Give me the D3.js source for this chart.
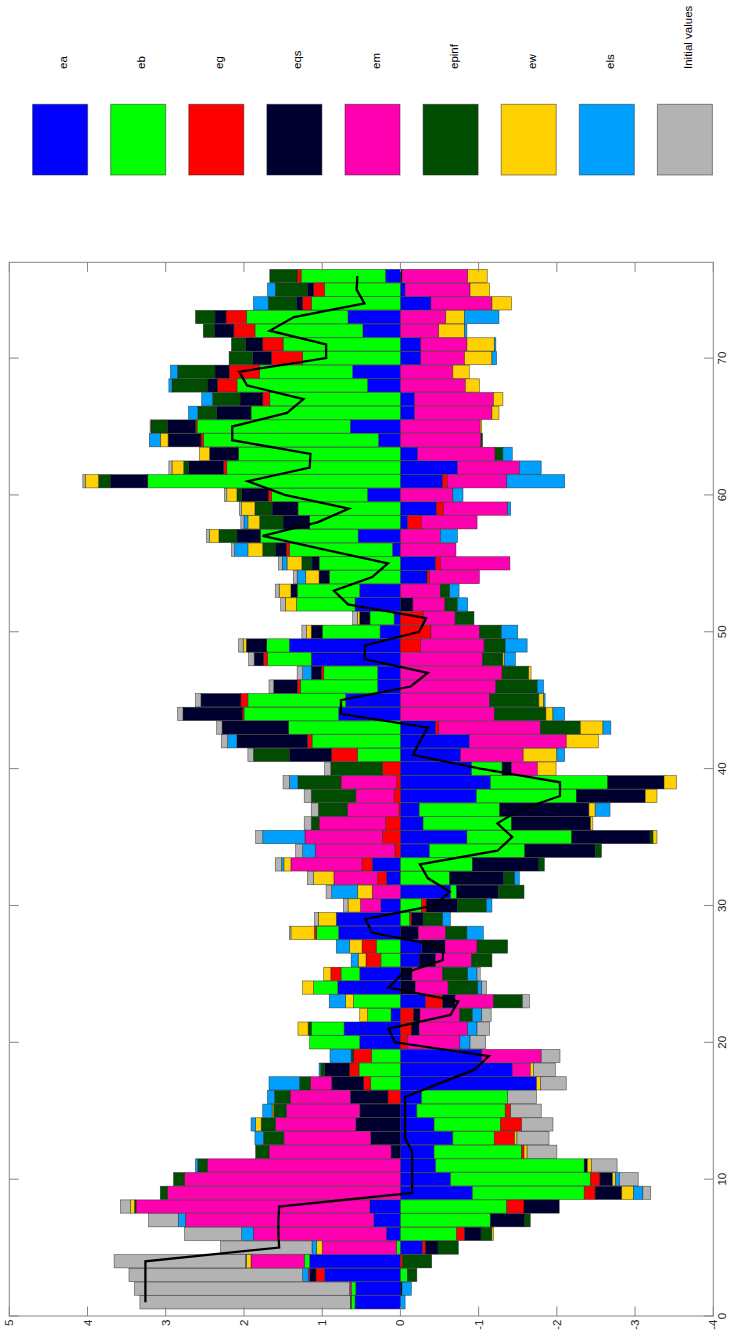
<!DOCTYPE html>
<html>
<head>
<meta charset="utf-8">
<script src="https://cdn.jsdelivr.net/npm/d3@7"></script>
<style>
  body { margin: 0; background: #fff; }
  svg { display: block; }
  text { font-family: "Liberation Sans", Arial, sans-serif; }
</style>
</head>
<body>
<svg id="chart" width="731" height="1337"></svg>
<script>
// Historical shock decomposition, periods 1..76
const periods = d3.range(1, 77);

const ea = [0.58,0.57,0.97,1.16,-0.28,0.18,0.34,0.39,-0.92,-0.64,-0.45,-0.43,-0.67,-0.43,-0.21,-0.27,-1.74,-1.43,-1.04,0.52,
  0.72,0.12,-0.32,0.80,0.52,-0.24,-0.27,0.79,0.82,0.25,-0.64,0.18,0.36,-0.37,-0.85,-0.29,-0.24,-0.97,-1.15,-0.91,
  -0.77,-0.88,-0.45,0.79,0.70,0.29,0.29,1.14,1.42,0.26,0.08,0.58,0.52,-0.34,-0.45,0.10,0.54,-0.09,-0.46,0.42,
  -0.54,-0.73,-0.22,0.28,0.64,-0.18,-0.18,0.42,0.61,-0.26,-0.26,0.48,0.67,-0.39,-0.06,0.19];
const eb = [0.05,0.06,-0.09,0.07,0.05,-0.72,-1.15,-1.36,-1.43,-1.79,-1.90,-1.12,-0.53,-0.85,-1.13,-1.10,0.38,0.53,0.37,0.64,
  0.42,0.30,0.60,0.31,0.24,0.25,0.31,0.28,-0.12,-0.27,-0.08,-0.63,-0.92,-1.22,-1.34,-1.13,-1.03,-1.28,-1.50,-0.39,
  0.55,1.13,1.43,1.21,1.25,0.99,0.69,0.56,0.29,0.74,0.31,0.75,0.80,0.91,1.04,1.32,1.25,1.16,1.31,1.23,
  3.23,2.22,2.07,2.24,1.96,1.91,1.67,1.67,1.19,1.25,1.50,1.38,1.30,1.14,0.97,1.08];
const eg = [0,0,0.11,-0.03,-0.04,-0.10,0,-0.22,-0.14,-0.12,0,-0.03,-0.26,-0.27,-0.07,0.16,0.09,0.12,0.23,-0.09,
  -0.14,-0.17,-0.22,0,0.13,0.19,0.18,0.03,-0.02,-0.06,0,0.11,0.13,0.07,0.23,0.19,0.02,0.08,0.05,0.23,
  0.33,0.06,-0.04,0.02,0.09,0.04,0.03,0.05,-0.26,-0.39,-0.29,0,0,-0.03,-0.06,0.04,0,-0.18,-0.09,0.04,
  -0.06,0.04,0,0.03,0.02,0,0.09,0.25,0.39,0.40,0.26,0.27,0.26,0.11,0.14,0.05];
const eqs = [0.01,-0.02,0.08,0,-0.16,-0.21,-0.44,-0.45,-0.34,-0.16,-0.04,0.12,0.38,0.57,0.52,0.48,0.41,0.32,0.01,0,
  -0.10,-0.08,-0.16,-0.19,-0.15,-0.21,-0.30,-0.23,-0.15,-0.40,-0.53,-0.69,-0.85,-0.90,-1.00,-1.01,-1.14,-0.88,-0.72,-0.12,
  0.54,0.90,0.85,0.76,0.51,0.30,0.13,0.12,0.26,0.14,0.13,-0.16,0.08,0.13,0.09,0.14,0.30,0.34,0.33,0.34,
  0.48,0.45,0.37,0.42,0.36,0.44,0.29,0.13,0.18,0.24,0.22,0.25,0.14,0.08,0.08,-0.02];
const em = [0,0.02,0.02,0.68,0.95,1.70,2.41,2.99,2.98,2.76,2.47,1.56,1.11,1.03,0.94,0.77,0.27,-0.23,-0.76,-0.67,
  -0.62,-0.51,-0.49,-0.42,-0.39,-0.46,-0.41,-0.35,0,0.26,0.36,0.56,0.91,1.02,0.99,0.85,0.66,0.49,0.71,-0.33,
  -0.80,-1.24,-1.30,-1.20,-1.14,-1.22,-1.30,-1.05,-0.81,-0.62,-0.41,-0.41,-0.51,-0.64,-0.89,-0.71,-0.51,-0.71,-0.82,-0.67,
  -0.76,-0.79,-0.99,-1.03,-1.02,-0.99,-1.01,-0.83,-0.67,-0.56,-0.59,-0.49,-0.58,-0.78,-0.83,-0.84];
const epinf = [0,0,-0.12,-0.37,-0.26,-0.14,-0.07,0.02,0.09,0.14,0.12,0.17,0.26,0.18,0.16,0.20,0.14,0.05,0.02,0,
  0.04,-0.16,-0.37,-0.38,-0.32,-0.26,-0.39,-0.27,-0.25,-0.37,-0.33,-0.14,-0.07,-0.08,-0.04,0.10,0.37,0.57,0.55,0.66,
  0.46,0,-0.51,-0.66,-0.63,-0.53,-0.34,-0.26,-0.27,-0.28,-0.24,-0.16,-0.12,0,0.13,0.16,0.23,0.30,0.22,0.06,
  0.15,0.06,-0.10,-0.02,0.21,0.24,0.35,0.45,0.48,0.30,0.18,0.14,0.25,0.36,0.41,0.35];
const ew = [0,0,0,0.06,0.07,-0.02,0,0.05,-0.15,-0.04,-0.05,-0.04,-0.03,0.07,0.02,0,-0.05,-0.04,0,0,
  0.13,0.10,0.10,0.14,0.09,0.10,0.16,0.30,0.23,0.16,0.19,0.26,0.09,0,-0.05,-0.03,-0.08,-0.15,-0.16,-0.24,
  -0.43,-0.41,-0.29,-0.09,-0.06,0,-0.03,-0.02,0.04,0.06,0.03,0.14,0.15,0.17,0.19,0.19,0.12,0.15,0.17,0.13,
  0.17,0.15,0.13,0.10,-0.02,-0.09,-0.12,-0.18,-0.21,-0.35,-0.35,-0.33,-0.24,-0.25,-0.25,-0.25];
const els = [-0.06,-0.12,0.07,0.01,0.06,0.15,0.09,0,-0.12,-0.05,0.03,0,0.11,0.06,0.12,0.09,0.39,0.02,0.27,-0.13,
  -0.12,-0.12,0.21,-0.05,-0.12,0.09,0.17,-0.21,-0.10,-0.07,0.33,-0.06,0.03,0.16,0.54,0,-0.19,0,0.11,0,
  -0.10,0.12,-0.10,-0.15,-0.02,-0.08,0.11,-0.14,-0.28,-0.21,0,-0.13,-0.12,0.11,0.06,0.17,-0.22,0.05,-0.04,-0.13,
  -0.74,-0.28,-0.12,0.14,0,0.12,0.14,0.04,0.09,-0.06,-0.02,-0.03,-0.44,0.19,0.10,0];
const initialValues = [2.69,2.75,2.22,1.68,1.17,0.73,0.38,0.13,-0.10,-0.24,-0.33,-0.38,-0.41,-0.40,-0.39,-0.37,-0.33,-0.28,-0.24,-0.20,
  -0.16,-0.12,-0.09,-0.06,-0.04,0,0,0.02,0.05,0.06,0.07,0.08,0.08,0.09,0.09,0.09,0.09,0.09,0.08,0.08,
  0.07,0.08,0.07,0.07,0.07,0.06,0.07,0.07,0.06,0.06,0.06,0.06,0.05,0.05,0.05,0.04,0.04,0.04,0.03,0.03,
  0.03,0.04,0,0,0.01,0,0,0,0,0,0,0,0,0,0,0];

// Observed series (black line)
const actual = [3.26,3.26,3.26,3.26,1.55,1.56,1.56,1.55,-0.15,-0.15,-0.15,-0.15,-0.06,-0.06,-0.06,-0.06,-0.50,-0.95,-1.13,0.07,
  0.15,-0.64,-0.74,0.15,-0.02,-0.54,-0.55,0.36,0.45,-0.44,-0.63,-0.35,-0.25,-1.24,-1.43,-1.24,-1.53,-2.04,-2.04,-1.02,
  -0.16,-0.25,-0.35,0.76,0.76,-0.13,-0.35,0.46,0.45,-0.24,-0.33,0.67,0.85,0.36,0.16,0.97,1.76,1.06,0.66,1.48,
  1.95,1.16,1.15,2.15,2.15,1.45,1.24,1.96,2.06,0.95,0.95,1.67,1.36,0.46,0.56,0.55];

const seriesNames = ["ea", "eb", "eg", "eqs", "em", "epinf", "ew", "els", "Initial values"];
const seriesValues = [ea, eb, eg, eqs, em, epinf, ew, els, initialValues];
const seriesColors = ["#0000ff", "#00ff00", "#ff0000", "#000030", "#ff00b0", "#004c00", "#ffd100", "#00a0ff", "#b3b3b3"];

const valueTicks = [5, 4, 3, 2, 1, 0, -1, -2, -3, -4];
const periodTicks = [0, 10, 20, 30, 40, 50, 60, 70];

// The figure is laid out landscape (1337 x 731) and turned a quarter turn onto the page.
const W = 1337;
const svg = d3.select("#chart");
const g = svg.append("g").attr("transform", `translate(0,${W}) rotate(-90)`);

const plot = { left: 21, right: 1074.7, top: 9.3, bottom: 713.3 };
const x = d3.scaleLinear().domain([0, 77]).range([plot.left, plot.right]);
const y = d3.scaleLinear().domain([-4, 5]).range([plot.bottom, plot.top]);

// Table rows for the stack
const table = periods.map((p, i) => {
  const row = { period: p };
  seriesNames.forEach((n, k) => { row[n] = seriesValues[k][i]; });
  return row;
});

const stacked = d3.stack()
  .keys(seriesNames)
  .order(d3.stackOrderNone)
  .offset(d3.stackOffsetDiverging)(table);

const bw = (x(1) - x(0)) * 0.97;

g.append("g").selectAll("g")
  .data(stacked)
  .join("g")
  .attr("fill", (d, i) => seriesColors[i])
  .selectAll("rect")
  .data(d => d.filter(s => Math.abs(s[1] - s[0]) > 1e-9))
  .join("rect")
  .attr("x", d => x(d.data.period) - bw / 2)
  .attr("width", bw)
  .attr("y", d => y(Math.max(d[0], d[1])))
  .attr("height", d => Math.abs(y(d[0]) - y(d[1])))
  .attr("stroke", "#222")
  .attr("stroke-opacity", 0.75)
  .attr("stroke-width", 0.6);

// Observed path
const line = d3.line()
  .x((d, i) => x(periods[i]))
  .y(d => y(d));
g.append("path")
  .datum(actual)
  .attr("fill", "none")
  .attr("stroke", "#000")
  .attr("stroke-width", 2.3)
  .attr("d", line);

// Axes box
const axisColor = "#858585";
g.append("rect")
  .attr("x", plot.left).attr("y", plot.top)
  .attr("width", plot.right - plot.left).attr("height", plot.bottom - plot.top)
  .attr("fill", "none").attr("stroke", axisColor).attr("stroke-width", 1);

const tickLen = 9.5;
const ticks = g.append("g").attr("stroke", axisColor).attr("stroke-width", 1);
valueTicks.forEach(v => {
  ticks.append("line").attr("x1", plot.left).attr("x2", plot.left + tickLen).attr("y1", y(v)).attr("y2", y(v));
  ticks.append("line").attr("x1", plot.right).attr("x2", plot.right - tickLen).attr("y1", y(v)).attr("y2", y(v));
});
periodTicks.forEach(p => {
  ticks.append("line").attr("x1", x(p)).attr("x2", x(p)).attr("y1", plot.bottom).attr("y2", plot.bottom - tickLen);
  ticks.append("line").attr("x1", x(p)).attr("x2", x(p)).attr("y1", plot.top).attr("y2", plot.top + tickLen);
});

const labelColor = "#262626";
g.append("g").selectAll("text")
  .data(valueTicks)
  .join("text")
  .attr("x", plot.left - 3.5)
  .attr("y", d => y(d))
  .attr("text-anchor", "end")
  .attr("dominant-baseline", "central")
  .attr("font-size", 11.5)
  .attr("fill", labelColor)
  .text(d => d);

g.append("g").selectAll("text")
  .data(periodTicks)
  .join("text")
  .attr("x", d => x(d))
  .attr("y", plot.bottom + 5)
  .attr("text-anchor", "middle")
  .attr("dominant-baseline", "hanging")
  .attr("font-size", 11.5)
  .attr("fill", labelColor)
  .text(d => d);

// Legend
const legend = g.append("g");
seriesNames.forEach((n, i) => {
  const top = 32.6 + 78.1 * i;
  legend.append("rect")
    .attr("x", 1162).attr("y", top)
    .attr("width", 70.7).attr("height", 55)
    .attr("fill", seriesColors[i])
    .attr("stroke", "#222").attr("stroke-opacity", 0.5).attr("stroke-width", 1);
  legend.append("text")
    .attr("x", 1268)
    .attr("y", top + 27.5 + 3)
    .attr("dominant-baseline", "central")
    .attr("font-size", 11.5)
    .attr("fill", "#000")
    .text(n);
});
</script>
</body>
</html>
